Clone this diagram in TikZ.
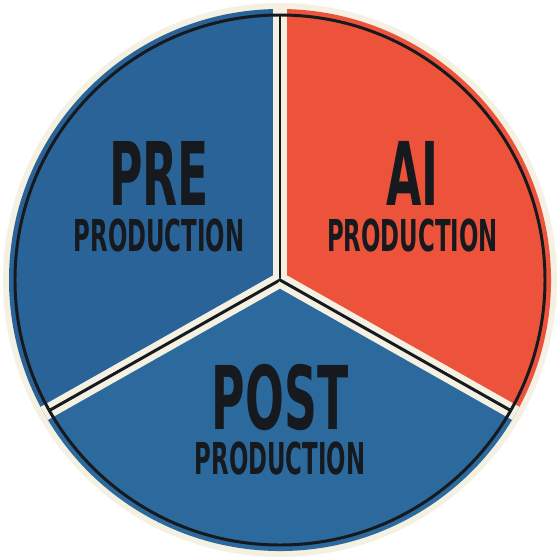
\documentclass[tikz,border=0pt]{standalone}
\usepackage{fontspec}
\setmainfont{DejaVu Sans}
\definecolor{preblue}{HTML}{2A6398}
\definecolor{postblue}{HTML}{2C6A9E}
\definecolor{aired}{HTML}{EC533A}
\definecolor{cream}{HTML}{F4F0E2}
\definecolor{ink}{HTML}{16191D}
\newcommand{\narrowtext}[1]{\scalebox{0.52}[1]{#1}}
\newcommand{\bigword}[1]{{\fontsize{50}{26}\selectfont\narrowtext{#1}}}
\begin{document}
\begin{tikzpicture}[
		label/.style={anchor=north, align=center, text=ink, font=\fontsize{25}{26}\selectfont\bfseries, inner sep=0pt},
		band/.style={cream, line width=8.5pt},
		rule/.style={ink, line width=1.7pt}
	]
	\useasboundingbox (-5.6, -5.6) rectangle (5.6, 5.6);
	\fill[cream] (0, 0) circle (5.54);
	% the three sectors
	\fill[preblue] (0, 0) -- (90:5.42) arc (90:209.5:5.42) -- cycle;
	\fill[postblue] (0, 0) -- (209.5:5.42) arc (209.5:330.5:5.42) -- cycle;
	\fill[aired] (0, 0) -- (-29.5:5.42) arc (-29.5:90:5.42) -- cycle;
	\coordinate (hub) at (0, 0);
	\begin{scope}
		\clip (0, 0) circle (5.42);
		\foreach \a/\p in {90/0, 209.5/299.5, 330.5/240.5}
		{
			\coordinate (rim) at (\a:5.6);
			\draw[band, shift={(\p:0.085)}] (hub) -- (rim);
			\draw[rule, line cap=round] (hub) -- (\a:5.3);
		}
	\end{scope}
	\draw[rule] (0, 0) circle (5.3);
	% labels
	\node[label] (pre) at (-2.42, 2.78) {\bigword{PRE}\\\narrowtext{PRODUCTION}};
	\node[label] (ai) at (2.65, 2.78) {\bigword{AI}\\\narrowtext{PRODUCTION}};
	\node[label] (post) at (0, -1.67) {\bigword{POST}\\\narrowtext{PRODUCTION}};
\end{tikzpicture}
\end{document}
